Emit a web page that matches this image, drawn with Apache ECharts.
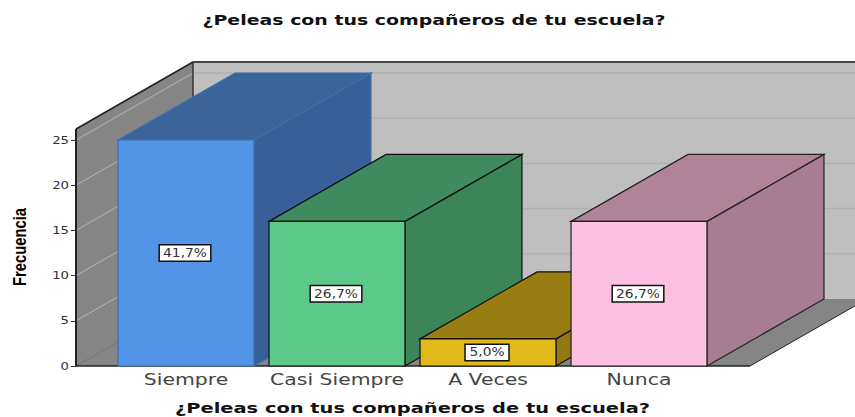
<!DOCTYPE html>
<html><head><meta charset="utf-8">
<style>html,body{margin:0;padding:0;background:#fff}#c{width:855px;height:417px}</style>
<script src="https://cdn.jsdelivr.net/npm/echarts@6/dist/echarts.min.js"></script>
</head><body><div id="c"></div>
<script>
const categories = ['Siempre','Casi Siempre','A Veces','Nunca'];
const frequencies = [25,16,3,16];
const percentLabels = ['41,7%','26,7%','5,0%','26,7%'];
const yTicks = [0,5,10,15,20,25];
const titleText = '¿Peleas con tus compañeros de tu escuela?';
const yName = 'Frecuencia';
const frontColors = ['#5294e6','#5dca8c','#e2b91a','#fdc0e0'];
const topColors = ['#3b6599','#3f8a5e','#997c12','#b08399'];
const sideColors = ['#366097','#3c8559','#937710','#a67d92'];
const edgeColors = ['#3f6fae','#111','#111','#222'];

const DX = 117, DY = -67, WALL_EXTRA = 11, AXIS_SHIFT = 34.5, FLOOR_SHIFT = 35.5;
const poly = (points, fill, stroke, lw) => ({type:'polygon',shape:{points},style:{fill,stroke:stroke||null,lineWidth:lw||0}});
const line = (x1,y1,x2,y2,stroke,lineWidth) => ({type:'line',shape:{x1,y1,x2,y2},style:{stroke,lineWidth}});

function renderWalls(params, api){
  const cs = params.coordSys;
  const L = cs.x - AXIS_SHIFT, R = cs.x + cs.width + FLOOR_SHIFT;
  const y0 = api.coord([0,0])[1];
  const yT = api.coord([0,25])[1] - WALL_EXTRA;
  const ch = [];
  ch.push(poly([[L+DX,yT+DY],[R+DX,yT+DY],[R+DX,y0+DY],[L+DX,y0+DY]],'#bfbfbf'));
  ch.push(poly([[L,yT],[L+DX,yT+DY],[L+DX,y0+DY],[L,y0]],'#858585'));
  ch.push(poly([[L,y0],[L+DX,y0+DY],[R+DX,y0+DY],[R,y0]],'#858585'));
  yTicks.forEach(v=>{
    const y = api.coord([0,v])[1];
    if(v>0) ch.push(line(L+DX,y+DY,R+DX,y+DY,'#b1b1b1',1.5));
    ch.push(line(L,y,L+DX,y+DY,v>0?'#b5b5b5':'#707070',1));
  });
  ch.push(line(L+DX,yT+DY,R+DX,yT+DY,'#444',2));
  ch.push(line(L+DX,yT+DY,L+DX,y0+DY,'#333',1.5));
  ch.push(line(L,yT,L+DX,yT+DY,'#222',1.5));
  ch.push(line(L,yT,L,y0,'#222',2));
  ch.push(line(L,y0,R,y0,'#222',1.5));
  ch.push(line(R,y0,R+DX,y0+DY,'#222',1));
  return {type:'group',children:ch};
}
function renderBar(params, api){
  const i = api.value(0), v = api.value(1);
  const w = api.size([1,0])[0]*0.9;
  const c = api.coord([i,v]), b = api.coord([i,0]);
  const x0 = c[0]-w/2, x1 = c[0]+w/2, yt = c[1], yb = b[1];
  const e = edgeColors[i];
  return {type:'group',children:[
    poly([[x1,yt],[x1+DX,yt+DY],[x1+DX,yb+DY],[x1,yb]],sideColors[i],e,1.2),
    poly([[x0,yt],[x0+DX,yt+DY],[x1+DX,yt+DY],[x1,yt]],topColors[i],e,1.2),
    poly([[x0,yt],[x1,yt],[x1,yb],[x0,yb]],frontColors[i],e,1.2),
    {type:'text',x:c[0]-1,y:(yt+yb)/2,style:{text:percentLabels[i],align:'center',verticalAlign:'middle',
      fill:'#333',font:'12px "DejaVu Sans"',backgroundColor:'#fff',borderColor:'#111',borderWidth:1.5,padding:[2,6,1,6]}}
  ]};
}
const chart = echarts.init(document.getElementById('c'),null,{renderer:'svg',width:855,height:417});
chart.on('finished',()=>stretch());
chart.setOption({
  animation:false,
  backgroundColor:'#fff',
  title:{text:titleText,top:13,left:434,textAlign:'center',padding:0,
    textStyle:{fontFamily:'DejaVu Sans',fontWeight:'bold',fontSize:14,color:'#111'}},
  grid:{left:110.5,right:140.5,top:140,bottom:51,outerBoundsMode:'none'},
  xAxis:{type:'category',data:categories,name:titleText,nameLocation:'middle',nameGap:35,
    nameTextStyle:{fontFamily:'DejaVu Sans',fontWeight:'bold',fontSize:14,color:'#111'},
    axisLine:{show:false},axisTick:{show:false},
    axisLabel:{fontFamily:'DejaVu Sans',fontSize:15,color:'#444',margin:6}},
  yAxis:{type:'value',min:0,max:25,interval:5,offset:AXIS_SHIFT,name:yName,nameLocation:'middle',nameGap:47,
    nameTextStyle:{fontFamily:'Liberation Sans',fontWeight:'bold',fontSize:18,color:'#000',padding:[0,0,0,12]},
    axisLine:{show:false},splitLine:{show:false},
    axisTick:{show:true,length:5,lineStyle:{color:'#333'}},
    axisLabel:{fontFamily:'DejaVu Sans',fontSize:11,color:'#333',margin:7}},
  series:[
    {type:'custom',data:[[0,0]],renderItem:renderWalls,silent:true,z:1},
    {type:'custom',data:frequencies.map((v,i)=>[i,v]),renderItem:renderBar,encode:{x:0,y:1},z:2}
  ]
});
function stretch(){
  const stretchBy = {15:1.36,11:1.2,12:1.15};
  document.querySelectorAll('#c svg text').forEach(t=>{
    if(t.hasAttribute('textLength')) return;
    const fs = parseFloat(getComputedStyle(t).fontSize);
    const len = t.getComputedTextLength();
    let target = len*(stretchBy[fs]||1);
    if(t.textContent===yName) target = 78;
    else if(t.textContent===titleText) target = t.getBoundingClientRect().top<100 ? 463 : 475;
    t.setAttribute('textLength',target);
    t.setAttribute('lengthAdjust','spacingAndGlyphs');
  });
}
stretch();
</script></body></html>
